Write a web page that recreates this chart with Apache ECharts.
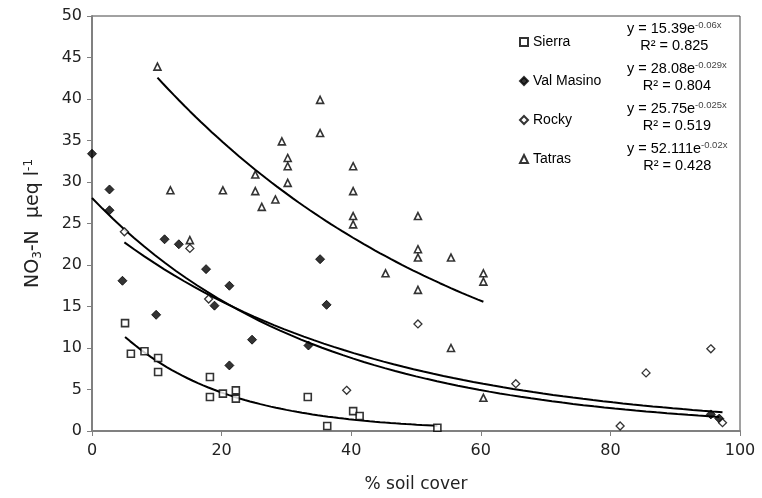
<!DOCTYPE html>
<html>
<head>
<meta charset="utf-8">
<script src="https://cdn.jsdelivr.net/npm/echarts@6/dist/echarts.min.js"></script>
<style>html,body{margin:0;padding:0;background:#fff}#c{width:762px;height:498px}</style>
</head>
<body>
<div id="c"></div>
<script>
var sierraX = [5.1, 6.0, 8.1, 10.2, 10.2, 18.2, 18.2, 20.2, 22.2, 22.2, 33.3, 36.3, 40.3, 41.3, 53.3];
var sierraY = [13.0, 9.3, 9.6, 8.8, 7.1, 6.5, 4.1, 4.5, 4.9, 3.9, 4.1, 0.6, 2.4, 1.8, 0.4];

var valX = [0, 2.7, 2.7, 4.7, 9.9, 11.2, 13.4, 17.6, 18.9, 21.2, 21.2, 24.7, 33.4, 35.2, 36.2, 95.5, 96.8];
var valY = [33.4, 29.1, 26.6, 18.1, 14.0, 23.1, 22.5, 19.5, 15.1, 17.5, 7.9, 11.0, 10.3, 20.7, 15.2, 2.0, 1.5];

var rockyX = [5.0, 15.1, 18.0, 39.3, 50.3, 65.4, 81.5, 85.5, 95.5, 97.3];
var rockyY = [24.0, 22.0, 15.9, 4.9, 12.9, 5.7, 0.6, 7.0, 9.9, 1.0];

var tatrasX = [10.1, 12.1, 15.1, 20.2, 25.2, 25.2, 26.2, 28.3, 29.3, 30.2, 30.2, 30.2, 35.2, 35.2, 40.3, 40.3, 40.3, 40.3, 45.3, 50.3, 50.3, 50.3, 50.3, 55.4, 55.4, 60.4, 60.4, 60.4];
var tatrasY = [43.9, 29.0, 23.0, 29.0, 30.9, 28.9, 27.0, 27.9, 34.9, 32.9, 31.9, 29.9, 39.9, 35.9, 31.9, 28.9, 25.9, 24.9, 19.0, 25.9, 21.9, 20.9, 17.0, 20.9, 10.0, 19.0, 18.0, 4.0];

var seriesNames = ['Sierra', 'Val Masino', 'Rocky', 'Tatras'];
// Printed trendline equations y = a*e^(b*x), drawn over each series' x range
var trendA = [15.39, 28.08, 25.75, 52.111];
var trendB = [-0.06, -0.029, -0.025, -0.02];
var trendAText = ['15.39', '28.08', '25.75', '52.111'];
var trendBText = ['-0.06x', '-0.029x', '-0.025x', '-0.02x'];
var r2Text = ['0.825', '0.804', '0.519', '0.428'];

var xs = [sierraX, valX, rockyX, tatrasX];
var ys = [sierraY, valY, rockyY, tatrasY];

function pairs(a, b) { return a.map(function (v, i) { return [v, b[i]]; }); }
function trend(k) {
  var xv = xs[k];
  var lo = Math.min.apply(null, xv), hi = Math.max.apply(null, xv);
  var pts = [];
  var n = 60;
  for (var i = 0; i <= n; i++) {
    var x = lo + (hi - lo) * i / n;
    pts.push([x, trendA[k] * Math.exp(trendB[k] * x)]);
  }
  return pts;
}

var FONT = 'Liberation Sans, Arial, sans-serif';
var AXFONT = 'DejaVu Sans, sans-serif';
var symbols = ['rect', 'diamond', 'diamond', 'triangle'];
var symSizes = [7, 9, 8, 7];
var fills = ['#ffffff', '#000000', '#ffffff', '#ffffff'];
var borders = [1.6, 1, 1.3, 1.6];

var series = [];
for (var k = 0; k < 4; k++) {
  series.push({
    name: seriesNames[k], type: 'scatter', data: pairs(xs[k], ys[k]),
    symbol: symbols[k], symbolSize: symSizes[k], z: 3,
    itemStyle: { color: fills[k], borderColor: '#000', borderWidth: borders[k] }
  });
}
for (var k2 = 0; k2 < 4; k2++) {
  series.push({
    name: 'trend' + k2, type: 'line', data: trend(k2), showSymbol: false, smooth: false,
    lineStyle: { color: '#000', width: 2 }, silent: true, z: 2
  });
}

var graphics = [];
var eqY = [20, 60, 100, 140];
for (var g = 0; g < 4; g++) {
  graphics.push({
    type: 'text', left: 627, top: eqY[g],
    style: {
      text: '{b|y = ' + trendAText[g] + 'e}{s|' + trendBText[g] + '}\n{b|R² = ' + r2Text[g] + '}',
      align: 'center',
      rich: {
        b: { fontSize: 14.5, fontFamily: FONT, fill: '#000', lineHeight: 17, align: 'center' },
        s: { fontSize: 9.5, fontFamily: FONT, fill: '#444', lineHeight: 17, verticalAlign: 'top', padding: [0, 0, 6, 0] }
      }
    }
  });
}

var chart = echarts.init(document.getElementById('c'));
chart.setOption({
  animation: false,
  backgroundColor: '#fff',
  grid: { left: 92, right: 22, top: 16, bottom: 66, show: true, borderColor: '#444', borderWidth: 1 },
  legend: {
    data: seriesNames.map(function (n, i) { return { name: n, icon: symbols[i] }; }),
    orient: 'vertical', left: 514, top: 30, itemWidth: 8, itemHeight: 8, itemGap: 25,
    textStyle: { fontSize: 14, fontFamily: FONT, color: '#000' }, selectedMode: false
  },
  xAxis: {
    type: 'value', min: 0, max: 100, interval: 20,
    name: '% soil cover', nameLocation: 'middle', nameGap: 45,
    nameTextStyle: { fontSize: 17, fontFamily: AXFONT, color: '#222' },
    axisLine: { show: true, lineStyle: { color: '#808080', width: 2 } },
    axisTick: { show: true, length: 5, lineStyle: { color: '#808080' } },
    axisLabel: { fontSize: 16, fontFamily: AXFONT, color: '#222', margin: 12 },
    splitLine: { show: false }
  },
  yAxis: {
    type: 'value', min: 0, max: 50, interval: 5,
    name: 'NO{sub|3}-N  µeq l{sup|-1}', nameLocation: 'middle', nameGap: 48, nameRotate: 90,
    nameTextStyle: {
      fontSize: 19, fontFamily: AXFONT, color: '#222',
      rich: {
        sub: { fontSize: 12, fontFamily: AXFONT, color: '#222', verticalAlign: 'bottom', padding: [9, 0, 0, 0] },
        sup: { fontSize: 12, fontFamily: AXFONT, color: '#222', verticalAlign: 'top', padding: [0, 0, 9, 0] }
      }
    },
    axisLine: { show: true, lineStyle: { color: '#808080', width: 2 } },
    axisTick: { show: true, length: 5, lineStyle: { color: '#808080' } },
    axisLabel: { fontSize: 16, fontFamily: AXFONT, color: '#222', margin: 10 },
    splitLine: { show: false }
  },
  graphic: graphics,
  series: series
});
</script>
</body>
</html>
